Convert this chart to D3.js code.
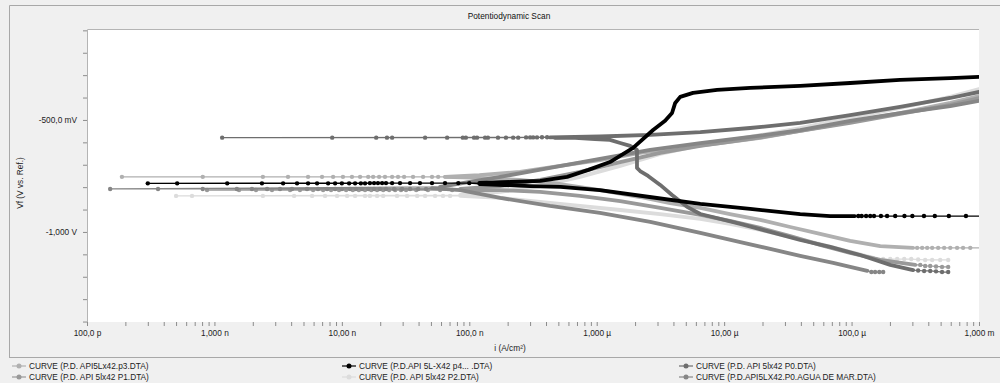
<!DOCTYPE html>
<html>
<head>
<meta charset="utf-8">
<script src="https://cdn.jsdelivr.net/npm/d3@7"></script>
<style>
body { margin: 0; background: #f0f0f0; }
svg { display: block; font-family: "Liberation Sans", Arial, sans-serif; }
</style>
</head>
<body>
<svg id="chart" width="1000" height="383"></svg>
<script>
//Section: data (i in A/cm², E in V)
var xTickValues = [1e-10, 1e-9, 1e-8, 1e-7, 1e-6, 1e-5, 1e-4, 1e-3];
var xTickLabels = ['100,0 p', '1,000 n', '10,00 n', '100,0 n', '1,000 µ', '10,00 µ', '100,0 µ', '1,000 m'];
var yTickValues = [-0.5, -1.0];
var yTickLabels = ['-500,0 mV', '-1,000 V'];

var seriesNames = [
    'CURVE (P.D. API5Lx42.p3.DTA)',
    'CURVE (P.D.API 5L-X42 p4... .DTA)',
    'CURVE (P.D. API 5lx42 P0.DTA)',
    'CURVE (P.D. API 5lx42 P1.DTA)',
    'CURVE (P.D. API 5lx42 P2.DTA)',
    'CURVE (P.D.API5LX42.P0.AGUA DE MAR.DTA)'
];

// p3
var p3Tail = [[1.45e-3,-1.071],[8.54e-4,-1.071],[7.5e-4,-1.071],[6.73e-4,-1.071],[5.95e-4,-1.071],[5.33e-4,-1.071],[4.78e-4,-1.071],[4.29e-4,-1.071],[3.92e-4,-1.071],[3.58e-4,-1.071],[3.27e-4,-1.071]];
var p3Cath = [[3.04e-4,-1.071],[1.68e-4,-1.063],[9.75e-5,-1.040],[5.66e-5,-1.009],[3.3e-5,-0.978],[1.92e-5,-0.946],[1.11e-5,-0.920],[6.5e-6,-0.893],[3.77e-6,-0.871],[2.19e-6,-0.844],[1.06e-6,-0.813],[5.16e-7,-0.786],[2.5e-7,-0.768],[1.2e-7,-0.759],[6.45e-8,-0.754]];
var p3Corr = [[5.7e-8,-0.754],[5.1e-8,-0.754],[4.34e-8,-0.754],[3.62e-8,-0.754],[3.08e-8,-0.754],[2.76e-8,-0.754],[2.48e-8,-0.754],[2.18e-8,-0.754],[1.96e-8,-0.754],[1.76e-8,-0.754],[1.61e-8,-0.754],[1.39e-8,-0.754],[1.2e-8,-0.754],[1.02e-8,-0.754],[8.54e-9,-0.754],[6.99e-9,-0.754],[5.43e-9,-0.754],[3.78e-9,-0.754],[2.4e-9,-0.754],[8.1e-10,-0.754],[1.88e-10,-0.754]];
var p3Anod = [[6.45e-8,-0.754],[1.2e-7,-0.746],[2.5e-7,-0.732],[5.16e-7,-0.705],[1.06e-6,-0.679],[2.19e-6,-0.647],[4.52e-6,-0.625],[9.3e-6,-0.603],[1.92e-5,-0.580],[3.95e-5,-0.549],[9.75e-5,-0.509],[2.4e-4,-0.469],[5.95e-4,-0.424],[1.0e-3,-0.393]];

// p4
var p4Tail = [[1.3e-3,-0.929],[7.9e-4,-0.929],[5.8e-4,-0.929],[4.5e-4,-0.929],[3.7e-4,-0.929],[3.0e-4,-0.929],[2.6e-4,-0.929],[2.2e-4,-0.929],[1.9e-4,-0.929],[1.7e-4,-0.929],[1.5e-4,-0.929],[1.4e-4,-0.929],[1.3e-4,-0.929],[1.2e-4,-0.929],[1.13e-4,-0.929]];
var p4Cath = [[1.06e-4,-0.929],[6.8e-5,-0.929],[3.95e-5,-0.920],[1.6e-5,-0.897],[6.5e-6,-0.875],[2.6e-6,-0.844],[1.06e-6,-0.813],[5.2e-7,-0.799],[3.0e-7,-0.795],[1.2e-7,-0.786]];
var p4Corr = [[1.0e-7,-0.782],[8.2e-8,-0.782],[6.45e-8,-0.782],[5.1e-8,-0.782],[4.1e-8,-0.782],[3.43e-8,-0.782],[2.86e-8,-0.782],[2.48e-8,-0.782],[2.22e-8,-0.782],[2.07e-8,-0.782],[1.92e-8,-0.782],[1.79e-8,-0.782],[1.66e-8,-0.782],[1.52e-8,-0.783],[1.41e-8,-0.783],[1.27e-8,-0.783],[1.14e-8,-0.783],[1.0e-8,-0.783],[8.85e-9,-0.783],[7.8e-9,-0.783],[6.39e-9,-0.783],[5.43e-9,-0.783],[4.45e-9,-0.783],[3.46e-9,-0.783],[2.36e-9,-0.783],[1.26e-9,-0.783],[5.1e-10,-0.783],[3.0e-10,-0.783]];
var p4Anod = [[1.2e-7,-0.781],[2.1e-7,-0.777],[3.6e-7,-0.772],[5.86e-7,-0.754],[8.6e-7,-0.723],[1.27e-6,-0.688],[1.93e-6,-0.625],[2.77e-6,-0.545],[3.44e-6,-0.504],[3.9e-6,-0.469],[4.13e-6,-0.424],[4.52e-6,-0.397],[5.7e-6,-0.379],[8.8e-6,-0.366],[1.6e-5,-0.357],[3.95e-5,-0.348],[9.75e-5,-0.335],[2.4e-4,-0.321],[5.95e-4,-0.313],[1.0e-3,-0.308]];

// P0
var p0Tail = [[5.73e-4,-1.179],[5.13e-4,-1.179],[4.6e-4,-1.176],[4.14e-4,-1.174],[3.71e-4,-1.174],[3.33e-4,-1.172]];
var p0Cath = [[3.04e-4,-1.170],[2.01e-4,-1.147],[1.17e-4,-1.103],[6.8e-5,-1.067],[3.95e-5,-1.036],[2.3e-5,-1.0],[1.34e-5,-0.964],[6.5e-6,-0.920],[5.12e-6,-0.888],[3.9e-6,-0.835],[3.15e-6,-0.790],[2.53e-6,-0.750],[2.19e-6,-0.728],[2.07e-6,-0.714],[2.07e-6,-0.634],[1.83e-6,-0.616],[1.53e-6,-0.603],[1.27e-6,-0.589],[9.7e-7,-0.585],[6.77e-7,-0.580],[4.7e-7,-0.580]];
var p0Corr = [[4.08e-7,-0.577],[3.72e-7,-0.577],[3.4e-7,-0.578],[3.17e-7,-0.578],[3.0e-7,-0.578],[2.79e-7,-0.578],[2.42e-7,-0.579],[2.21e-7,-0.579],[1.94e-7,-0.579],[1.68e-7,-0.579],[1.4e-7,-0.579],[1.33e-7,-0.579],[1.15e-7,-0.579],[1.09e-7,-0.579],[9.4e-8,-0.579],[8.9e-8,-0.579],[6.7e-8,-0.579],[4.5e-8,-0.579],[2.48e-8,-0.579],[2.26e-8,-0.579],[1.86e-8,-0.579],[8.4e-9,-0.579],[1.15e-9,-0.579]];
var p0Anod = [[4.3e-7,-0.578],[1.06e-6,-0.574],[2.63e-6,-0.567],[6.5e-6,-0.554],[1.6e-5,-0.536],[3.95e-5,-0.513],[9.75e-5,-0.478],[2.4e-4,-0.442],[5.95e-4,-0.402],[1.0e-3,-0.375]];

// P1
var p1Tail = [[5.73e-4,-1.156],[5.13e-4,-1.156],[4.6e-4,-1.154],[4.14e-4,-1.152],[3.78e-4,-1.152],[3.46e-4,-1.147]];
var p1Cath = [[3.16e-4,-1.147],[1.68e-4,-1.125],[9.75e-5,-1.094],[5.66e-5,-1.058],[3.3e-5,-1.018],[1.92e-5,-0.982],[1.11e-5,-0.951],[6.5e-6,-0.924],[3.15e-6,-0.893],[1.53e-6,-0.862],[7.4e-7,-0.839],[3.6e-7,-0.821],[1.75e-7,-0.813],[8.5e-8,-0.813]];
var p1Corr = [[7.33e-8,-0.813],[5.9e-8,-0.813],[4.74e-8,-0.813],[3.83e-8,-0.813],[3.19e-8,-0.813],[2.91e-8,-0.813],[2.62e-8,-0.813],[2.35e-8,-0.813],[2.11e-8,-0.813],[1.89e-8,-0.813],[1.7e-8,-0.813],[1.52e-8,-0.813],[1.36e-8,-0.813],[1.22e-8,-0.813],[1.08e-8,-0.813],[9.5e-9,-0.813],[8.23e-9,-0.813],[7.13e-9,-0.813],[5.95e-9,-0.813],[4.69e-9,-0.813],[3.92e-9,-0.813],[2.83e-9,-0.813],[2.12e-9,-0.813],[1.56e-9,-0.813],[8.75e-10,-0.813]];
var p1Anod = [[8.5e-8,-0.808],[1.75e-7,-0.795],[3.6e-7,-0.768],[7.4e-7,-0.732],[1.53e-6,-0.688],[3.15e-6,-0.647],[6.5e-6,-0.616],[1.6e-5,-0.585],[3.95e-5,-0.549],[9.75e-5,-0.513],[2.4e-4,-0.473],[5.95e-4,-0.433],[1.0e-3,-0.402]];

// P2
var p2Tail = [[5.73e-4,-1.125],[4.96e-4,-1.125],[4.29e-4,-1.125],[3.78e-4,-1.125],[3.33e-4,-1.123],[2.94e-4,-1.121],[2.59e-4,-1.121],[2.28e-4,-1.121],[2.01e-4,-1.121],[1.77e-4,-1.121],[1.56e-4,-1.121]];
var p2Cath = [[1.48e-4,-1.116],[9.75e-5,-1.089],[5.66e-5,-1.054],[3.3e-5,-1.022],[1.92e-5,-0.991],[1.11e-5,-0.964],[6.5e-6,-0.942],[3.15e-6,-0.920],[1.53e-6,-0.902],[7.4e-7,-0.884],[3.6e-7,-0.866],[1.75e-7,-0.848],[8.5e-8,-0.839]];
var p2Corr = [[7.07e-8,-0.839],[6.22e-8,-0.839],[5.39e-8,-0.839],[4.5e-8,-0.839],[3.9e-8,-0.839],[3.25e-8,-0.839],[2.71e-8,-0.839],[2.11e-8,-0.839],[1.89e-8,-0.839],[1.66e-8,-0.839],[1.52e-8,-0.839],[1.27e-8,-0.839],[1.1e-8,-0.839],[9.17e-9,-0.839],[7.38e-9,-0.839],[5.84e-9,-0.839],[4.22e-9,-0.839],[2.4e-9,-0.839],[6.67e-10,-0.839],[5.0e-10,-0.839]];
var p2Anod = [[8.5e-8,-0.835],[1.75e-7,-0.821],[3.6e-7,-0.795],[7.4e-7,-0.754],[1.53e-6,-0.705],[3.15e-6,-0.652],[6.5e-6,-0.612],[1.6e-5,-0.576],[3.95e-5,-0.536],[9.75e-5,-0.491],[2.4e-4,-0.446],[5.95e-4,-0.397],[1.0e-3,-0.362]];

// P0 agua de mar
var amTail = [[1.77e-4,-1.179],[1.65e-4,-1.179],[1.53e-4,-1.179],[1.43e-4,-1.179]];
var amCath = [[1.33e-4,-1.174],[9.75e-5,-1.156],[7.17e-5,-1.138],[3.95e-5,-1.107],[2.3e-5,-1.076],[1.34e-5,-1.045],[6.5e-6,-1.004],[2.63e-6,-0.955],[1.06e-6,-0.915],[4.3e-7,-0.884],[1.75e-7,-0.848],[8.5e-8,-0.813],[5.1e-8,-0.804]];
var amCorr = [[4.58e-8,-0.808],[3.97e-8,-0.808],[3.43e-8,-0.808],[2.97e-8,-0.808],[2.57e-8,-0.808],[2.22e-8,-0.808],[1.99e-8,-0.808],[1.79e-8,-0.808],[1.61e-8,-0.808],[1.44e-8,-0.808],[1.29e-8,-0.808],[1.16e-8,-0.808],[1.0e-8,-0.808],[8.85e-9,-0.808],[7.66e-9,-0.808],[6.5e-9,-0.808],[5.33e-9,-0.808],[4.06e-9,-0.808],[3.27e-9,-0.808],[2.59e-9,-0.808],[1.97e-9,-0.808],[1.5e-9,-0.808],[8.1e-10,-0.808],[3.61e-10,-0.808],[1.52e-10,-0.808]];
var amAnod = [[5.9e-8,-0.799],[1.01e-7,-0.777],[1.75e-7,-0.754],[4.3e-7,-0.714],[1.06e-6,-0.674],[2.63e-6,-0.634],[6.5e-6,-0.603],[1.6e-5,-0.576],[3.95e-5,-0.545],[9.75e-5,-0.504],[2.4e-4,-0.469],[5.95e-4,-0.438],[1.0e-3,-0.415]];

var seriesColors = ['#b0b0b0', '#000000', '#6e6e6e', '#999999', '#dcdcdc', '#868686'];

// table used for drawing, in legend order
var series = [
    {name: seriesNames[0], color: seriesColors[0], tail: p3Tail, cath: p3Cath, corr: p3Corr, anod: p3Anod},
    {name: seriesNames[1], color: seriesColors[1], tail: p4Tail, cath: p4Cath, corr: p4Corr, anod: p4Anod},
    {name: seriesNames[2], color: seriesColors[2], tail: p0Tail, cath: p0Cath, corr: p0Corr, anod: p0Anod},
    {name: seriesNames[3], color: seriesColors[3], tail: p1Tail, cath: p1Cath, corr: p1Corr, anod: p1Anod},
    {name: seriesNames[4], color: seriesColors[4], tail: p2Tail, cath: p2Cath, corr: p2Corr, anod: p2Anod},
    {name: seriesNames[5], color: seriesColors[5], tail: amTail, cath: amCath, corr: amCorr, anod: amAnod}
];
// light ones underneath, black on top
var drawOrder = [4, 0, 3, 5, 2, 1];

//Section: layout
var svg = d3.select('#chart');
var plot = {l: 87, t: 29, r: 979, b: 322};
var fontSize = 8.3;

var x = d3.scaleLog().domain([1e-10, 1e-3]).range([plot.l, plot.r]);
var y = d3.scaleLinear().domain([-1.402, -0.094]).range([plot.b, plot.t]);

// frame
svg.append('rect').attr('width', 1000).attr('height', 383).attr('fill', '#f0f0f0');
svg.append('path')
    .attr('d', 'M9.5,357.5 V5.5 H1000')
    .attr('fill', 'none').attr('stroke', '#a8a8a8');
svg.append('line')
    .attr('x1', 9).attr('x2', 1000).attr('y1', 357.5).attr('y2', 357.5)
    .attr('stroke', '#a8a8a8');

svg.append('rect')
    .attr('x', plot.l).attr('y', plot.t)
    .attr('width', plot.r - plot.l).attr('height', plot.b - plot.t)
    .attr('fill', '#ffffff');
svg.append('path')
    .attr('d', 'M' + (plot.l + 0.5) + ',' + plot.b + ' V' + (plot.t + 0.5) + ' H' + plot.r)
    .attr('fill', 'none').attr('stroke', '#b4b4b4');

svg.append('text')
    .attr('x', 509).attr('y', 19)
    .attr('text-anchor', 'middle')
    .style('font-size', fontSize + 'px')
    .attr('fill', '#111')
    .text('Potentiodynamic Scan');

//Section: axes
var minorX = [];
xTickValues.forEach(function(v, k) {
    if (k < xTickValues.length - 1) {
        for (var m = 1; m < 10; m++) minorX.push(v * m);
    } else {
        minorX.push(v);
    }
});

var xAxis = d3.axisBottom(x)
    .tickValues(minorX)
    .tickSize(4)
    .tickPadding(4)
    .tickFormat(function(d) {
        var k = xTickValues.findIndex(function(v) { return Math.abs(v - d) / v < 1e-6; });
        return k >= 0 ? xTickLabels[k] : '';
    });
var xG = svg.append('g')
    .attr('transform', 'translate(0,' + plot.b + ')')
    .call(xAxis);

var yAxis = d3.axisLeft(y)
    .tickValues(d3.range(-14, 0).map(function(k) { return k / 10; }))
    .tickSize(4)
    .tickPadding(6)
    .tickFormat(function(d) {
        var k = yTickValues.findIndex(function(v) { return Math.abs(v - d) < 1e-6; });
        return k >= 0 ? yTickLabels[k] : '';
    });
var yG = svg.append('g')
    .attr('transform', 'translate(' + plot.l + ',0)')
    .call(yAxis);

[xG, yG].forEach(function(g) {
    g.select('.domain').remove();
    g.selectAll('.tick line').attr('stroke', '#8c8c8c');
    g.selectAll('.tick text')
        .attr('fill', '#222')
        .style('font-size', fontSize + 'px')
        .style('font-family', '"Liberation Sans", Arial, sans-serif');
});

svg.append('text')
    .attr('x', 510).attr('y', 351)
    .attr('text-anchor', 'middle')
    .style('font-size', fontSize + 'px')
    .attr('fill', '#222')
    .text('i (A/cm²)');

svg.append('text')
    .attr('transform', 'translate(23,183)rotate(-90)')
    .attr('text-anchor', 'middle')
    .style('font-size', fontSize + 'px')
    .attr('fill', '#222')
    .text('Vf (V vs. Ref.)');

//Section: curves
svg.append('clipPath').attr('id', 'plotClip')
    .append('rect')
    .attr('x', plot.l).attr('y', plot.t)
    .attr('width', plot.r - plot.l).attr('height', plot.b - plot.t);

var curvesG = svg.append('g').attr('clip-path', 'url(#plotClip)');
var line = d3.line()
    .x(function(d) { return x(d[0]); })
    .y(function(d) { return y(d[1]); });

drawOrder.forEach(function(k) {
    var s = series[k];
    var g = curvesG.append('g');
    var all = s.tail.concat(s.cath, s.corr, s.anod);

    // thin connecting line through every point
    g.append('path')
        .attr('d', line(all))
        .attr('fill', 'none')
        .attr('stroke', s.color)
        .attr('stroke-width', 1.2);

    // dense parts: markers merge into a thick band
    [s.cath, s.anod].forEach(function(seg) {
        g.append('path')
            .attr('d', line(seg))
            .attr('fill', 'none')
            .attr('stroke', s.color)
            .attr('stroke-width', 3.8)
            .attr('stroke-linejoin', 'round')
            .attr('stroke-linecap', 'round');
    });

    // sparse parts: single markers
    g.selectAll('circle')
        .data(s.tail.concat(s.corr)).enter()
        .append('circle')
        .attr('cx', function(d) { return x(d[0]); })
        .attr('cy', function(d) { return y(d[1]); })
        .attr('r', 2.2)
        .attr('fill', s.color);
});

//Section: legend
var legendCols = [12, 342, 679];
var legendRows = [366, 377];

var legendG = svg.append('g');
series.forEach(function(s, k) {
    var lx = legendCols[k % 3];
    var ly = legendRows[Math.floor(k / 3)];
    var item = legendG.append('g').attr('transform', 'translate(' + lx + ',' + ly + ')');
    item.append('line')
        .attr('x1', 0).attr('x2', 14).attr('y1', 0).attr('y2', 0)
        .attr('stroke', s.color).attr('stroke-width', 1.2);
    item.append('circle')
        .attr('cx', 7).attr('cy', 0).attr('r', 2.5)
        .attr('fill', s.color);
    item.append('text')
        .attr('x', 17).attr('y', 3)
        .style('font-size', fontSize + 'px')
        .attr('fill', '#222')
        .text(s.name);
});
</script>
</body>
</html>
